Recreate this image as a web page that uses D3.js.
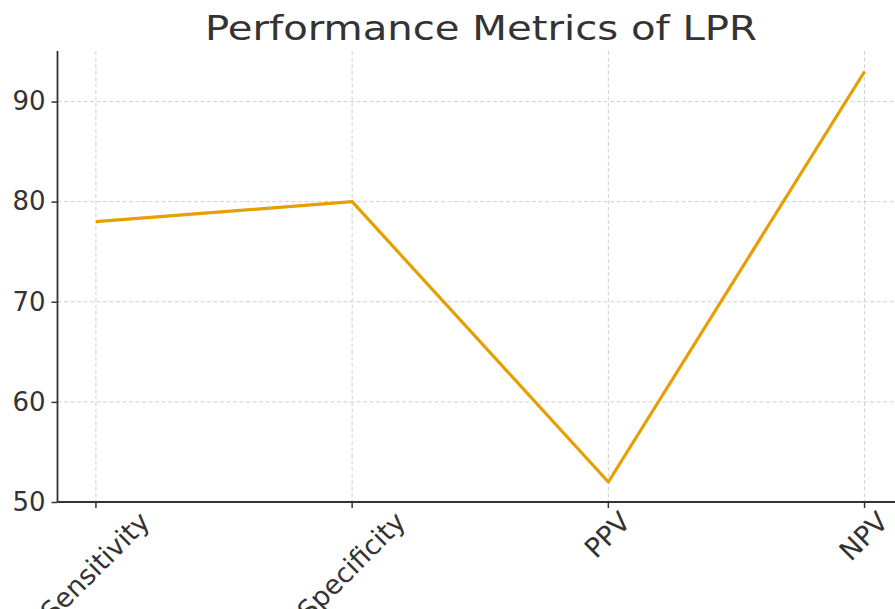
<!DOCTYPE html>
<html>
<head>
<meta charset="utf-8">
<script src="https://cdn.jsdelivr.net/npm/d3@7"></script>
<style>
  body { margin: 0; background: #fff; }
  svg { display: block; font-family: "DejaVu Sans", sans-serif; }
</style>
</head>
<body>
<svg id="chart" width="895" height="609"></svg>
<script>
var metrics = ["Sensitivity", "Specificity", "PPV", "NPV"];
var scores = [78, 80, 52, 93];
var yTicks = [50, 60, 70, 80, 90];

var plotLeft = 57.5, plotRight = 903, plotTop = 51, plotBottom = 502;

const svg = d3.select('#chart');

// x: point positions with matplotlib-like 5% margins
let xIndex = d3.scaleLinear().domain([-0.15, 3.15]).range([plotLeft, plotRight]);
let xScale = function (name) { return xIndex(metrics.indexOf(name)); };
let yScale = d3.scaleLinear().domain([50, 95.05]).range([plotBottom, plotTop]);

// grid
const grid = svg.append('g').attr('stroke', '#cfcfcf').attr('stroke-width', 1).attr('stroke-dasharray', '4,2.5');
grid.selectAll('.vgrid').data(metrics).enter().append('line')
    .attr('x1', d => xScale(d)).attr('x2', d => xScale(d))
    .attr('y1', plotTop).attr('y2', plotBottom);
grid.selectAll('.hgrid').data(yTicks).enter().append('line')
    .attr('x1', plotLeft).attr('x2', plotRight)
    .attr('y1', d => yScale(d)).attr('y2', d => yScale(d));

// line
svg.append('path')
    .datum(metrics.map((m, i) => ({ m: m, v: scores[i] })))
    .attr('fill', 'none')
    .attr('stroke', '#e69f00')
    .attr('stroke-width', 3.2)
    .attr('stroke-linejoin', 'round')
    .attr('d', d3.line().x(d => xScale(d.m)).y(d => yScale(d.v)));

// y axis
let axisLeft = d3.axisLeft(yScale).tickValues(yTicks).tickSize(6).tickPadding(6);
const gy = svg.append('g').attr('transform', 'translate(' + plotLeft + ',0)').call(axisLeft);
gy.select('.domain').attr('d', 'M0,' + plotTop + 'V' + plotBottom).attr('stroke', '#333').attr('stroke-width', 1.8);
gy.selectAll('.tick line').attr('stroke', '#333').attr('stroke-width', 1.5);
gy.selectAll('.tick text').attr('font-size', 26).attr('fill', '#333').attr('font-family', '"DejaVu Sans", sans-serif');

// x axis
const gx = svg.append('g');
gx.append('line').attr('x1', plotLeft).attr('x2', plotRight).attr('y1', plotBottom).attr('y2', plotBottom)
    .attr('stroke', '#333').attr('stroke-width', 1.8);
gx.selectAll('.xtick').data(metrics).enter().append('line')
    .attr('x1', d => xScale(d)).attr('x2', d => xScale(d))
    .attr('y1', plotBottom).attr('y2', plotBottom + 6)
    .attr('stroke', '#333').attr('stroke-width', 1.5);
gx.selectAll('.xlabel').data(metrics).enter().append('text')
    .attr('font-size', 27)
    .attr('fill', '#333')
    .attr('text-anchor', 'middle')
    .attr('dominant-baseline', 'central')
    .text(d => d)
    .attr('transform', function (d) {
        var L = this.getComputedTextLength();
        var half = (L + 22) * Math.SQRT1_2 / 2;
        return 'translate(' + (xScale(d) - 1) + ',' + (plotBottom + 7 + half) + ') rotate(-45)';
    });

// title
svg.append('text')
    .attr('x', 481).attr('y', 40)
    .attr('text-anchor', 'middle')
    .attr('font-size', 33)
    .attr('fill', '#333')
    .attr('textLength', 552)
    .attr('lengthAdjust', 'spacingAndGlyphs')
    .text('Performance Metrics of LPR');
</script>
</body>
</html>
